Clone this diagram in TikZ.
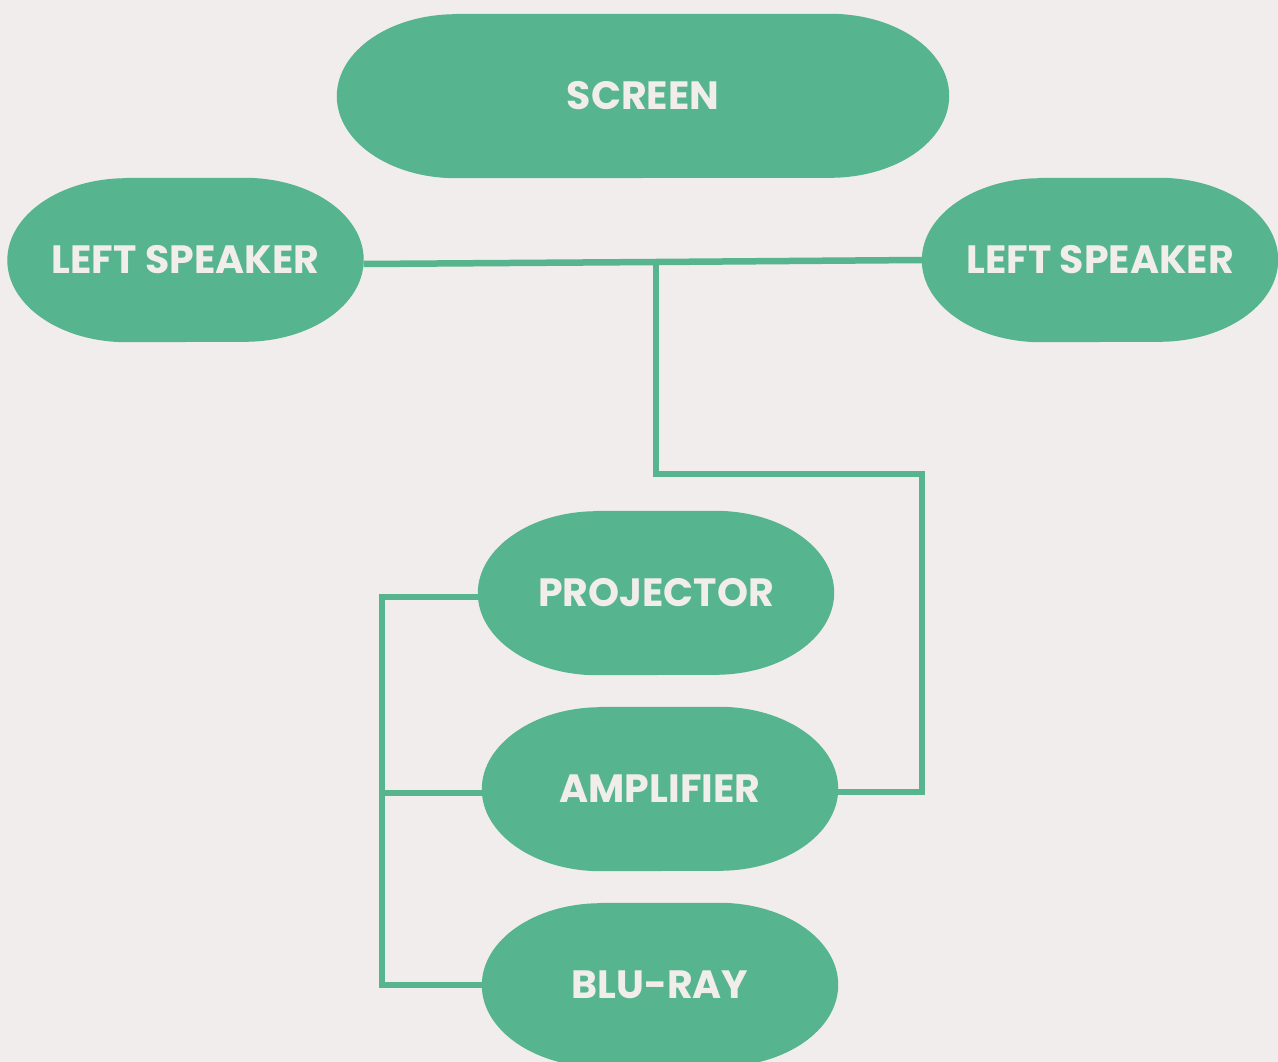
\documentclass[tikz,border=0pt]{standalone}
\usepackage{fontspec}
\setmainfont{Poppins}
\usetikzlibrary{backgrounds}

\definecolor{cablegreen}{HTML}{56B48E}
\definecolor{wallgrey}{HTML}{F0EDEC}
\definecolor{labelwhite}{HTML}{F0EDEA}

\begin{document}
\begin{tikzpicture}[
    x=1pt, y=-1pt, % pixel grid, top down
    device/.style={rectangle, inner sep=0pt, minimum width=356pt, minimum height=164pt,
        text=labelwhite, font=\fontsize{39.5}{42}\selectfont\bfseries},
    cable/.style={draw=cablegreen, line width=6.5pt, line join=miter},
]
\useasboundingbox (0,0) rectangle (1278,1062);

% devices
\node[device, minimum width=612pt] (screen) at (643,96) {SCREEN};
\node[device] (spkL) at (185.5,260) {LEFT SPEAKER};
\node[device] (spkR) at (1100,260) {LEFT SPEAKER};
\node[device] (proj) at (656,593) {PROJECTOR};
\node[device] (amp) at (660,789) {AMPLIFIER};
\node[device] (blu) at (660,985) {BLU-RAY};

\begin{scope}[on background layer]
    \fill[wallgrey] (0,0) rectangle (1278,1062);
    \foreach \n in {screen,spkL,spkR,proj,amp,blu}
        \fill[cablegreen] ([xshift=119pt]\n.north west) -- ([xshift=-119pt]\n.north east)
            arc[start angle=90, end angle=-90, x radius=119pt, y radius=82pt]
            -- ([xshift=119pt]\n.south west)
            arc[start angle=270, end angle=90, x radius=119pt, y radius=82pt] -- cycle;
\end{scope}

% cables
\coordinate (hub) at (656,262);
\coordinate (bend) at (922,474);
\coordinate (rack) at (382,597);
\coordinate (ampR) at ([yshift=-3pt]amp.east);
\coordinate (ampL) at ([yshift=-4pt]amp.west);
\draw[cable] ([yshift=-4pt]spkL.east) -- (hub) -- (spkR.west);
\draw[cable] (hub) -- (hub |- bend) -- (bend) -- (bend |- ampR) -- (ampR);
\draw[cable] ([yshift=-4pt]proj.west) -- (rack) -- (rack |- blu.west) -- (blu.west);
\draw[cable] (rack |- ampL) -- (ampL);
\end{tikzpicture}
\end{document}
